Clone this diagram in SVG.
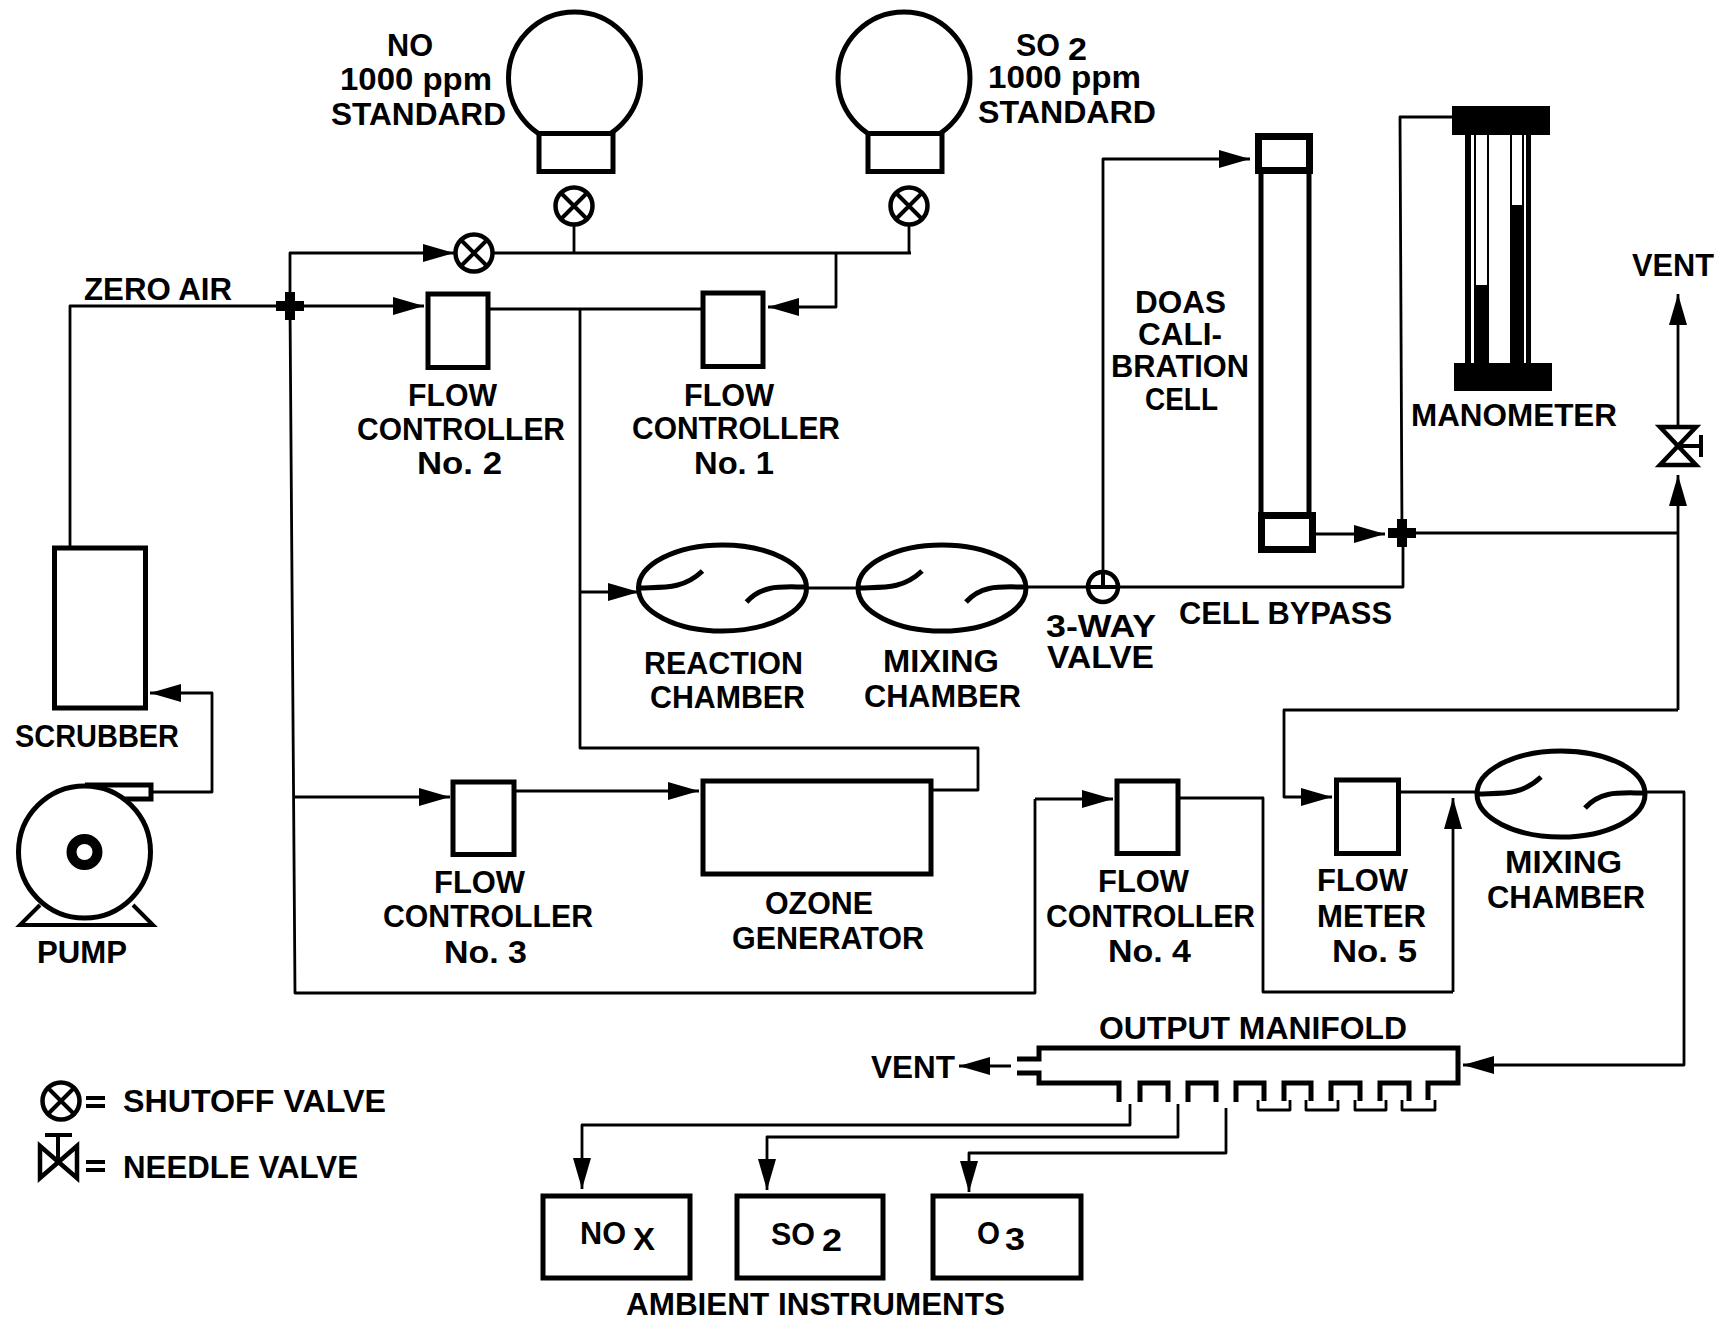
<svg xmlns="http://www.w3.org/2000/svg" xmlns:xlink="http://www.w3.org/1999/xlink" width="1718" height="1319" viewBox="0 0 1718 1319">
<style>
text{font-family:"Liberation Sans",Arial,sans-serif;font-weight:bold;font-size:31px;fill:#000}
.b{fill:#fff;stroke:#000;stroke-width:5}
.n{fill:none;stroke:#000;stroke-width:5}
.c{fill:none;stroke:#000;stroke-width:2.8;stroke-linejoin:round}
.a{marker-end:url(#arr)}
.k{fill:#000;stroke:none}
.v{fill:#fff;stroke:#000;stroke-width:4.5}
.m{fill:none;stroke:#000;stroke-width:5;stroke-linejoin:miter}
.p{fill:none;stroke:#000;stroke-width:2.8;stroke-linejoin:round}
.s{fill:none;stroke:#000;stroke-width:4}
.cap{fill:#fff;stroke:#000;stroke-width:7}
</style>
<defs>
<marker id="arr" markerUnits="userSpaceOnUse" markerWidth="34" markerHeight="20" refX="31" refY="9" orient="auto"><path d="M0,0L31,9L0,18z" fill="#000"/></marker>
<g id="shutoff"><circle r="18.500" class="v"/><path d="M-13,-13L13,13M-13,13L13,-13" class="s"/></g>
<g id="chamber"><ellipse rx="84" ry="43" class="n"/><path d="M-83,0C-60,-1 -40,2 -20,-17M83,-1C60,-1 40,-4 24,14" class="n"/></g>
<g id="cross"><rect x="-14" y="-5" width="28" height="10" class="k"/><rect x="-5" y="-14" width="10" height="28" class="k"/></g>
</defs>
<rect width="1718" height="1319" fill="#fff"/>

<g id="connectors">
<path class="c a" d="M290,306L290,253L454,253"/>
<path class="c" d="M493,253L911,253"/>
<path class="c" d="M574,225V253M909,225V253"/>
<path class="c a" d="M836,253V307H768"/>
<path class="c a" d="M70,546V306H424"/>
<path class="c" d="M290,306L295,993H1035V799"/>
<path class="c a" d="M1035,799H1113"/>
<path class="c a" d="M295,797H450"/>
<path class="c a" d="M516,791H699"/>
<path class="c" d="M489,309H701"/>
<path class="c" d="M580,309V748H978V790H932"/>
<path class="c a" d="M580,592H639"/>
<path class="c" d="M807,588H857M1027,587H1087"/>
<path class="c" d="M1119,587H1403V533"/>
<path class="c a" d="M1103,571V159H1250"/>
<path class="c a" d="M1315,534H1385"/>
<path class="c" d="M1402,533L1400,117H1454"/>
<path class="c" d="M1402,533H1678"/>
<path class="c a" d="M1678,425V294"/>
<path class="c a" d="M1678,710V475"/>
<path class="c a" d="M1678,710H1284V797H1332"/>
<path class="c" d="M1400,792H1477"/>
<path class="c a" d="M1645,792H1684V1065H1463"/>
<path class="c" d="M1180,798H1263V992H1453"/>
<path class="c a" d="M1453,992V798"/>
<path class="c a" d="M153,792H212V693H150"/>
<path class="c a" d="M1130,1104V1125H582V1189"/>
<path class="c a" d="M1178,1104V1137H767V1190"/>
<path class="c a" d="M1226,1108V1153H969V1192"/>
<path class="c a" d="M1011,1066H959"/>
</g>

<g id="bulb-no"><circle cx="574.5" cy="78" r="66" class="b"/><rect x="539" y="133.500" width="74" height="38" class="b"/>
<text x="387" y="56" textLength="46" lengthAdjust="spacingAndGlyphs">NO</text>
<text x="340" y="90" textLength="152" lengthAdjust="spacingAndGlyphs">1000 ppm</text>
<text x="331" y="124.500" textLength="175" lengthAdjust="spacingAndGlyphs">STANDARD</text></g>
<g id="bulb-so2"><circle cx="904" cy="78" r="66" class="b"/><rect x="868" y="133.500" width="74" height="38" class="b"/>
<text x="1016" y="56" textLength="44" lengthAdjust="spacingAndGlyphs">SO</text>
<text x="1068" y="60" textLength="19" lengthAdjust="spacingAndGlyphs">2</text>
<text x="988" y="88" textLength="153" lengthAdjust="spacingAndGlyphs">1000 ppm</text>
<text x="978" y="123" textLength="178" lengthAdjust="spacingAndGlyphs">STANDARD</text></g>
<g id="valve-no"><use xlink:href="#shutoff" href="#shutoff" x="574" y="206"/></g>
<g id="valve-so2"><use xlink:href="#shutoff" href="#shutoff" x="909" y="206"/></g>
<g id="valve-air"><use xlink:href="#shutoff" href="#shutoff" x="474" y="253"/></g>
<g id="junction-air"><use xlink:href="#cross" href="#cross" x="290" y="306"/>
<text x="84" y="300" textLength="148" lengthAdjust="spacingAndGlyphs">ZERO AIR</text></g>
<g id="junction-cell"><use xlink:href="#cross" href="#cross" x="1402" y="533"/></g>

<g id="flow-controller-2"><rect x="428" y="294" width="60" height="73.500" class="b"/>
<text x="408" y="406" textLength="89" lengthAdjust="spacingAndGlyphs">FLOW</text>
<text x="357" y="440" textLength="208" lengthAdjust="spacingAndGlyphs">CONTROLLER</text>
<text x="417" y="474" textLength="85" lengthAdjust="spacingAndGlyphs">No. 2</text></g>
<g id="flow-controller-1"><rect x="703" y="293" width="60" height="73.500" class="b"/>
<text x="684" y="406" textLength="90" lengthAdjust="spacingAndGlyphs">FLOW</text>
<text x="632" y="439" textLength="208" lengthAdjust="spacingAndGlyphs">CONTROLLER</text>
<text x="694" y="474" textLength="80" lengthAdjust="spacingAndGlyphs">No. 1</text></g>
<g id="flow-controller-3"><rect x="453" y="782" width="61" height="72.500" class="b"/>
<text x="434" y="893" textLength="91" lengthAdjust="spacingAndGlyphs">FLOW</text>
<text x="383" y="927" textLength="210" lengthAdjust="spacingAndGlyphs">CONTROLLER</text>
<text x="444" y="963" textLength="83" lengthAdjust="spacingAndGlyphs">No. 3</text></g>
<g id="flow-controller-4"><rect x="1117" y="781" width="61" height="72.500" class="b"/>
<text x="1098" y="892" textLength="91" lengthAdjust="spacingAndGlyphs">FLOW</text>
<text x="1046" y="927" textLength="209" lengthAdjust="spacingAndGlyphs">CONTROLLER</text>
<text x="1108" y="962" textLength="83" lengthAdjust="spacingAndGlyphs">No. 4</text></g>
<g id="flow-meter-5"><rect x="1336.500" y="780" width="62" height="73.500" class="b"/>
<text x="1317" y="891" textLength="91" lengthAdjust="spacingAndGlyphs">FLOW</text>
<text x="1317" y="927" textLength="109" lengthAdjust="spacingAndGlyphs">METER</text>
<text x="1332" y="962" textLength="85" lengthAdjust="spacingAndGlyphs">No. 5</text></g>
<g id="ozone-generator"><rect x="703" y="781" width="228" height="93" class="b"/>
<text x="765" y="914" textLength="108" lengthAdjust="spacingAndGlyphs">OZONE</text>
<text x="732" y="949" textLength="192" lengthAdjust="spacingAndGlyphs">GENERATOR</text></g>

<g id="reaction-chamber"><use xlink:href="#chamber" href="#chamber" x="722.5" y="588"/>
<text x="644" y="674" textLength="159" lengthAdjust="spacingAndGlyphs">REACTION</text>
<text x="650" y="708" textLength="155" lengthAdjust="spacingAndGlyphs">CHAMBER</text></g>
<g id="mixing-chamber-1"><use xlink:href="#chamber" href="#chamber" x="942" y="588"/>
<text x="883" y="672" textLength="116" lengthAdjust="spacingAndGlyphs">MIXING</text>
<text x="864" y="707" textLength="157" lengthAdjust="spacingAndGlyphs">CHAMBER</text></g>
<g id="mixing-chamber-2"><use xlink:href="#chamber" href="#chamber" x="1561" y="794"/>
<text x="1505" y="873" textLength="117" lengthAdjust="spacingAndGlyphs">MIXING</text>
<text x="1487" y="908" textLength="158" lengthAdjust="spacingAndGlyphs">CHAMBER</text></g>

<g id="three-way-valve"><circle cx="1103" cy="587" r="15" class="v"/><path d="M1088,587H1118M1103,572V587" class="s"/>
<text x="1046" y="637" textLength="110" lengthAdjust="spacingAndGlyphs">3-WAY</text>
<text x="1047" y="668" textLength="107" lengthAdjust="spacingAndGlyphs">VALVE</text>
<text x="1179" y="624" textLength="213" lengthAdjust="spacingAndGlyphs">CELL BYPASS</text></g>

<g id="doas-cell"><path d="M1261,173V513M1309,173V513" class="n"/>
<rect x="1258.500" y="136.500" width="51" height="34" class="cap"/><rect x="1261.500" y="515.500" width="51" height="34" class="cap"/>
<text x="1135" y="313" textLength="91" lengthAdjust="spacingAndGlyphs">DOAS</text>
<text x="1138" y="345" textLength="84" lengthAdjust="spacingAndGlyphs">CALI-</text>
<text x="1111" y="377" textLength="138" lengthAdjust="spacingAndGlyphs">BRATION</text>
<text x="1145" y="410" textLength="73" lengthAdjust="spacingAndGlyphs">CELL</text></g>

<g id="manometer">
<rect x="1465" y="135" width="6" height="228" class="k"/>
<rect x="1526" y="135" width="5" height="228" class="k"/>
<rect x="1474" y="135" width="2" height="150" class="k"/><rect x="1487" y="135" width="2" height="150" class="k"/>
<rect x="1474" y="285" width="15" height="78" class="k"/>
<rect x="1510" y="135" width="2" height="70" class="k"/><rect x="1522" y="135" width="2" height="70" class="k"/>
<rect x="1510" y="205" width="14" height="158" class="k"/>
<rect x="1452" y="106" width="98" height="29" class="k"/>
<rect x="1454" y="363" width="98" height="28" class="k"/>
<text x="1411" y="426" textLength="206" lengthAdjust="spacingAndGlyphs">MANOMETER</text></g>

<g id="vent-top"><path d="M1660,427H1696L1660,465H1696Z" class="v"/><path d="M1678,446H1700M1701,435V457" class="s"/>
<text x="1632" y="276" textLength="82" lengthAdjust="spacingAndGlyphs">VENT</text></g>

<g id="scrubber"><rect x="54.500" y="548" width="91" height="160" class="b"/>
<text x="15" y="747" textLength="164" lengthAdjust="spacingAndGlyphs">SCRUBBER</text></g>

<g id="pump">
<path d="M40,905L20,925H153L133,905" class="s"/>
<path d="M85,785H151V799H125" class="n"/>
<circle cx="84.500" cy="852" r="66" class="b"/>
<circle cx="84.500" cy="852" r="13" fill="#fff" stroke="#000" stroke-width="10"/>
<text x="37" y="963" textLength="90" lengthAdjust="spacingAndGlyphs">PUMP</text></g>

<g id="output-manifold">
<path class="m" d="M1017,1059H1039V1048H1458V1083H1428V1100"/>
<path class="m" d="M1017,1073H1039V1083H1119V1102"/>
<path class="m" d="M1140,1102V1083H1168V1102M1188,1102V1083H1216V1102M1236,1102V1083H1264V1101M1284,1101V1083H1311V1101M1331,1101V1083H1360V1101M1380,1101V1083H1409V1101"/>
<path class="p" d="M1258,1100V1110H1290V1100M1306,1100V1110H1338V1100M1355,1100V1110H1386V1100M1402,1100V1110H1435V1100"/>
<text x="1099" y="1039" textLength="308" lengthAdjust="spacingAndGlyphs">OUTPUT MANIFOLD</text>
<text x="871" y="1078" textLength="84" lengthAdjust="spacingAndGlyphs">VENT</text></g>

<g id="instrument-nox"><rect x="543" y="1196" width="147" height="82" class="b"/>
<text x="580" y="1244" textLength="46" lengthAdjust="spacingAndGlyphs">NO</text>
<text x="633" y="1250" textLength="22" lengthAdjust="spacingAndGlyphs">X</text></g>
<g id="instrument-so2"><rect x="737" y="1196" width="146" height="82" class="b"/>
<text x="771" y="1245" textLength="44" lengthAdjust="spacingAndGlyphs">SO</text>
<text x="822" y="1251" textLength="20" lengthAdjust="spacingAndGlyphs">2</text></g>
<g id="instrument-o3"><rect x="933" y="1196" width="148" height="82" class="b"/>
<text x="977" y="1244" textLength="23" lengthAdjust="spacingAndGlyphs">O</text>
<text x="1005" y="1250" textLength="20" lengthAdjust="spacingAndGlyphs">3</text>
<text x="626" y="1315" textLength="379" lengthAdjust="spacingAndGlyphs">AMBIENT INSTRUMENTS</text></g>

<g id="legend">
<use xlink:href="#shutoff" href="#shutoff" x="61" y="1101"/>
<path d="M86,1098H105M86,1106H105" class="s"/>
<text x="123" y="1112" textLength="263" lengthAdjust="spacingAndGlyphs">SHUTOFF VALVE</text>
<path d="M40,1146L77,1178V1146L40,1178Z" class="v"/>
<path d="M58,1135V1162M45,1135H72" class="s"/>
<path d="M86,1162H105M86,1170H105" class="s"/>
<text x="123" y="1178" textLength="235" lengthAdjust="spacingAndGlyphs">NEEDLE VALVE</text></g>
</svg>
